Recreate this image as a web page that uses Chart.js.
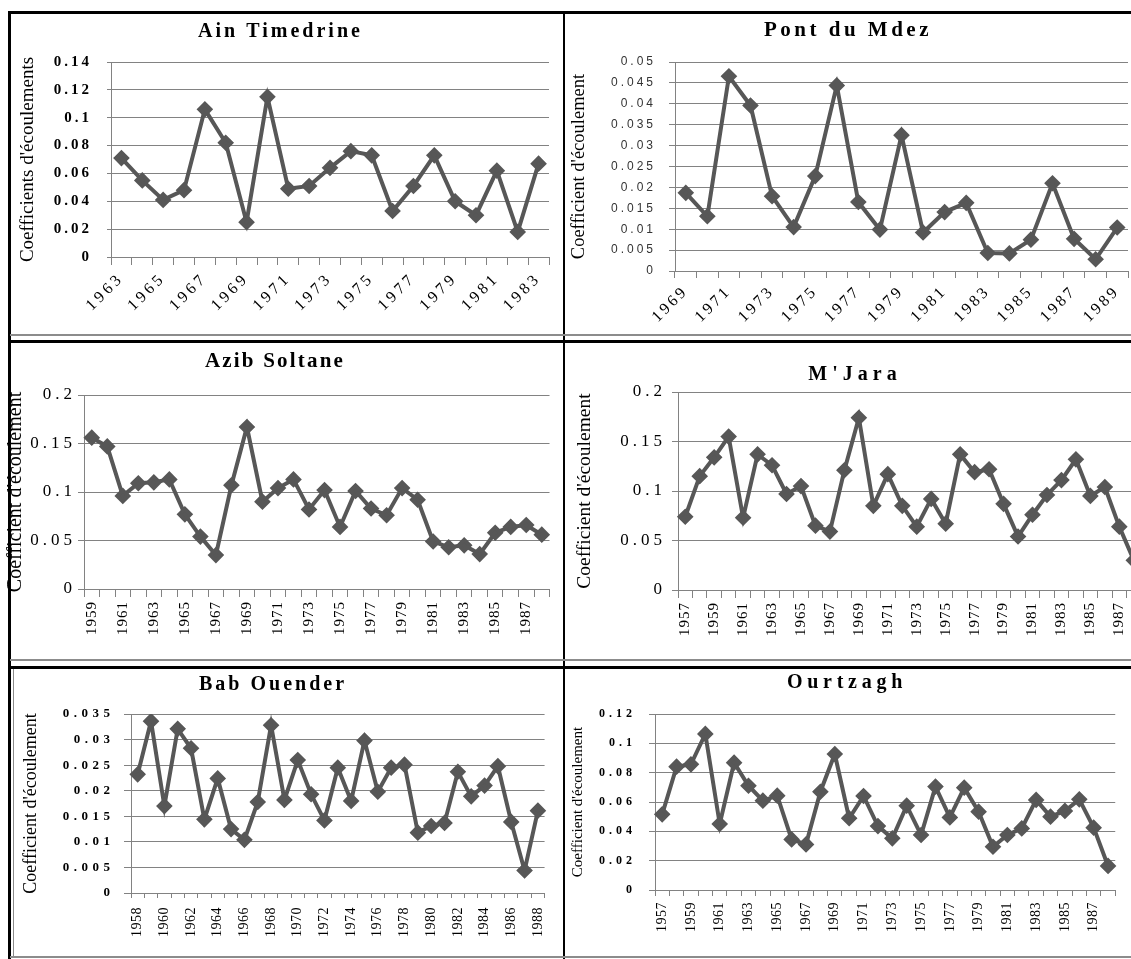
<!DOCTYPE html>
<html>
<head>
<meta charset="utf-8">
<script src="https://cdn.jsdelivr.net/npm/chart.js@4.4.1/dist/chart.umd.min.js"></script>
<style>
  html, body { margin: 0; padding: 0; background: #fff; }
  #page { position: relative; width: 1131px; height: 959px; overflow: hidden; background: #fff; }
  #page canvas { position: absolute; }
  .rule { position: absolute; z-index: 2; }
  .black { background: #000; }
  .gray { background: #8c8c8c; }
</style>
</head>
<body>
<div id="page">
  <canvas id="ain"></canvas>
  <canvas id="pont"></canvas>
  <canvas id="azib"></canvas>
  <canvas id="mjara"></canvas>
  <canvas id="bab"></canvas>
  <canvas id="ourtzagh"></canvas>

  <div class="rule black" style="left:8px;top:11px;width:1123px;height:3px"></div>
  <div class="rule black" style="left:8px;top:11px;width:3px;height:948px"></div>
  <div class="rule black" style="left:563px;top:11px;width:2px;height:948px"></div>
  <div class="rule gray" style="left:10px;top:334px;width:1121px;height:2px"></div>
  <div class="rule black" style="left:8px;top:340px;width:1123px;height:3px"></div>
  <div class="rule gray" style="left:10px;top:659px;width:1121px;height:2px"></div>
  <div class="rule black" style="left:8px;top:666px;width:1123px;height:3px"></div>
  <div class="rule gray" style="left:13px;top:669px;width:1px;height:288px"></div>
  <div class="rule gray" style="left:10px;top:956px;width:1121px;height:2px"></div>
</div>

<script>
// Coefficient d'écoulement per station
const ainYears = ["1963", "1964", "1965", "1966", "1967", "1968", "1969", "1970", "1971", "1972", "1973",
  "1974", "1975", "1976", "1977", "1978", "1979", "1980", "1981", "1982", "1983"];
const ainValues = [0.071, 0.055, 0.041, 0.048, 0.106, 0.082, 0.025, 0.115, 0.049, 0.051, 0.064,
  0.076, 0.073, 0.033, 0.051, 0.073, 0.040, 0.030, 0.062, 0.018, 0.067];

const pontYears = ["1969", "1970", "1971", "1972", "1973", "1974", "1975", "1976", "1977", "1978", "1979",
  "1980", "1981", "1982", "1983", "1984", "1985", "1986", "1987", "1988", "1989"];
const pontValues = [0.0187, 0.0131, 0.0466, 0.0396, 0.0179, 0.0105, 0.0227, 0.0444, 0.0165, 0.0099, 0.0325,
  0.0092, 0.0141, 0.0163, 0.0043, 0.0042, 0.0075, 0.021, 0.0077, 0.0028, 0.0104];

const azibYears = ["1959", "1960", "1961", "1962", "1963", "1964", "1965", "1966", "1967", "1968",
  "1969", "1970", "1971", "1972", "1973", "1974", "1975", "1976", "1977", "1978",
  "1979", "1980", "1981", "1982", "1983", "1984", "1985", "1986", "1987", "1988"];
const azibValues = [0.156, 0.147, 0.096, 0.109, 0.110, 0.113, 0.077, 0.054, 0.035, 0.107,
  0.167, 0.090, 0.104, 0.113, 0.082, 0.102, 0.064, 0.101, 0.083, 0.076,
  0.104, 0.092, 0.049, 0.043, 0.045, 0.036, 0.058, 0.064, 0.066, 0.056];

const mjaraYears = ["1957", "1958", "1959", "1960", "1961", "1962", "1963", "1964", "1965", "1966",
  "1967", "1968", "1969", "1970", "1971", "1972", "1973", "1974", "1975", "1976",
  "1977", "1978", "1979", "1980", "1981", "1982", "1983", "1984", "1985", "1986", "1987", "1988"];
const mjaraValues = [0.074, 0.115, 0.134, 0.155, 0.073, 0.137, 0.126, 0.097, 0.105, 0.065,
  0.059, 0.121, 0.174, 0.085, 0.117, 0.085, 0.064, 0.092, 0.067, 0.137,
  0.119, 0.122, 0.087, 0.054, 0.076, 0.096, 0.111, 0.132, 0.095, 0.104, 0.064, 0.03];

const babYears = ["1958", "1959", "1960", "1961", "1962", "1963", "1964", "1965", "1966", "1967",
  "1968", "1969", "1970", "1971", "1972", "1973", "1974", "1975", "1976", "1977",
  "1978", "1979", "1980", "1981", "1982", "1983", "1984", "1985", "1986", "1987", "1988"];
const babValues = [0.0232, 0.0336, 0.0170, 0.0321, 0.0283, 0.0144, 0.0224, 0.0125, 0.0104, 0.0178,
  0.0328, 0.0182, 0.0260, 0.0193, 0.0142, 0.0245, 0.0180, 0.0298, 0.0198, 0.0245,
  0.0251, 0.0118, 0.0131, 0.0137, 0.0237, 0.0189, 0.0210, 0.0248, 0.0139, 0.0044, 0.0161];

const ourYears = ["1957", "1958", "1959", "1960", "1961", "1962", "1963", "1964", "1965", "1966",
  "1967", "1968", "1969", "1970", "1971", "1972", "1973", "1974", "1975", "1976",
  "1977", "1978", "1979", "1980", "1981", "1982", "1983", "1984", "1985", "1986", "1987", "1988"];
const ourValues = [0.0516, 0.0841, 0.0857, 0.1064, 0.045, 0.0868, 0.0711, 0.0609, 0.0643, 0.0345,
  0.0311, 0.067, 0.0927, 0.0489, 0.0641, 0.0436, 0.0352, 0.0575, 0.0375, 0.0705,
  0.0495, 0.0698, 0.0534, 0.0295, 0.0375, 0.042, 0.0614, 0.05, 0.0539, 0.0618, 0.0425, 0.0164];

const lineColor = "#575757";
const gridColor = "#828282";
const serif = "'Liberation Serif', 'Times New Roman', serif";

// the scan has wide letter spacing on titles and tick labels, keyed here by font size
function spaceLetters(canvas, spacing) {
  const ctx = canvas.getContext("2d");
  const fill = ctx.fillText;
  const measure = ctx.measureText;
  const pick = () => {
    const m = /([\d.]+)px/.exec(ctx.font);
    const s = m ? spacing[m[1]] : 0;
    ctx.letterSpacing = (s || 0) + "px";
  };
  ctx.fillText = function (...args) { pick(); return fill.apply(ctx, args); };
  ctx.measureText = function (...args) { pick(); return measure.apply(ctx, args); };
}

function makeChart(p) {
  const canvas = document.getElementById(p.id);
  canvas.width = p.box.w;
  canvas.height = p.box.h;
  canvas.style.left = p.box.x + "px";
  canvas.style.top = p.box.y + "px";
  spaceLetters(canvas, p.spacing);

  const titleLine = p.titleSize * 1.2;
  const titleTop = p.titleY - p.box.y - titleLine / 2;
  const titleBottom = p.plot.t - p.box.y - titleTop - titleLine;
  const yTitlePad = Math.max(p.yTitleX - p.box.x - p.yTitleSize * 0.6, 0);
  const yLabelPad = p.plot.l - p.yTick - p.yLabelRight - (p.spacing[p.yFont.size] || 0);

  return new Chart(canvas, {
    type: "line",
    data: {
      labels: p.labels,
      datasets: [{
        data: p.values,
        borderColor: lineColor,
        backgroundColor: lineColor,
        borderWidth: 4,
        pointStyle: "rectRot",
        pointRadius: 5.5,
        pointBackgroundColor: lineColor,
        pointBorderColor: lineColor,
        tension: 0,
        fill: false,
      }],
    },
    options: {
      responsive: false,
      animation: false,
      layout: { padding: { left: 0, top: 0, bottom: 0, right: p.box.x + p.box.w - p.plot.r } },
      plugins: {
        legend: { display: false },
        tooltip: { enabled: false },
        title: {
          display: true,
          text: p.title,
          color: "#000",
          font: { family: serif, size: p.titleSize, weight: "bold" },
          padding: { top: titleTop, bottom: titleBottom },
        },
      },
      scales: {
        x: {
          offset: true,
          grid: { offset: true, drawOnChartArea: false, drawTicks: true, tickLength: p.xTick, color: gridColor },
          border: { display: p.xLine, color: gridColor },
          ticks: {
            autoSkip: false,
            maxRotation: p.rotation,
            minRotation: p.rotation,
            padding: p.xPad,
            color: "#000",
            font: p.xFont,
            callback: function (value, index) {
              return index % 2 === 0 ? this.getLabelForValue(value) : "";
            },
          },
          afterFit: (axis) => { axis.height = p.box.y + p.box.h - p.plot.b; },
        },
        y: {
          min: 0,
          max: p.yMax,
          grid: { color: gridColor, tickLength: p.yTick, drawTicks: true },
          border: { display: true, color: gridColor },
          ticks: {
            stepSize: p.yStep,
            padding: yLabelPad,
            color: p.yColor || "#000",
            font: p.yFont,
            callback: (v) => String(+v.toFixed(4)),
          },
          title: {
            display: true,
            text: p.yTitle,
            color: "#000",
            font: { family: serif, size: p.yTitleSize },
            padding: { top: yTitlePad, bottom: 0 },
          },
          afterFit: (axis) => { axis.width = p.plot.l - p.box.x; },
        },
      },
    },
  });
}

makeChart({
  id: "ain", title: "Ain Timedrine", yTitle: "Coefficients d'écoulements",
  labels: ainYears, values: ainValues, yMax: 0.14, yStep: 0.02,
  box: { x: 12, y: 14, w: 570, h: 322 }, plot: { l: 111, t: 62, r: 549, b: 257 },
  titleY: 32, titleSize: 20, yTitleX: 28, yTitleSize: 19,
  yFont: { family: serif, size: 15, weight: "bold" }, yTick: 4, yLabelRight: 89,
  xFont: { family: serif, size: 16 }, rotation: 45, xPad: 4, xTick: 8, xLine: true,
  spacing: { "20": 3, "15": 3, "16": 3.5 },
});

makeChart({
  id: "pont", title: "Pont du Mdez", yTitle: "Coefficient d'écoulement",
  labels: pontYears, values: pontValues, yMax: 0.05, yStep: 0.005,
  box: { x: 568, y: 14, w: 570, h: 322 }, plot: { l: 675, t: 62, r: 1128, b: 271 },
  titleY: 31, titleSize: 21, yTitleX: 579, yTitleSize: 18.5,
  yFont: { family: "'Liberation Sans', Arial, sans-serif", size: 12 }, yTick: 6, yLabelRight: 653, yColor: "#333",
  xFont: { family: serif, size: 16 }, rotation: 45, xPad: 4, xTick: 7, xLine: true,
  spacing: { "21": 3.5, "12": 3, "16": 3 },
});

makeChart({
  id: "azib", title: "Azib Soltane", yTitle: "Coefficient d'écoulement",
  labels: azibYears, values: azibValues, yMax: 0.2, yStep: 0.05,
  box: { x: 0, y: 346, w: 564, h: 314 }, plot: { l: 84, t: 395, r: 550, b: 589 },
  titleY: 362, titleSize: 21, yTitleX: 16, yTitleSize: 20,
  yFont: { family: serif, size: 17 }, yTick: 6, yLabelRight: 72,
  xFont: { family: serif, size: 15 }, rotation: 90, xPad: 4, xTick: 8, xLine: true,
  spacing: { "21": 2.2, "17": 4, "15": 1 },
});

makeChart({
  id: "mjara", title: "M'Jara", yTitle: "Coefficient d'écoulement",
  labels: mjaraYears, values: mjaraValues, yMax: 0.2, yStep: 0.05,
  box: { x: 568, y: 346, w: 588, h: 314 }, plot: { l: 678, t: 392, r: 1142, b: 590 },
  titleY: 375, titleSize: 20, yTitleX: 585, yTitleSize: 19.5,
  yFont: { family: serif, size: 17 }, yTick: 6, yLabelRight: 662,
  xFont: { family: serif, size: 15 }, rotation: 90, xPad: 4, xTick: 8, xLine: true,
  spacing: { "20": 5, "17": 4, "15": 1 },
});

makeChart({
  id: "bab", title: "Bab Ouender", yTitle: "Coefficient d'écoulement",
  labels: babYears, values: babValues, yMax: 0.035, yStep: 0.005,
  box: { x: 0, y: 672, w: 564, h: 285 }, plot: { l: 131, t: 714, r: 546, b: 893 },
  titleY: 685, titleSize: 20, yTitleX: 31, yTitleSize: 18,
  yFont: { family: serif, size: 13, weight: "bold" }, yTick: 7, yLabelRight: 110,
  xFont: { family: serif, size: 14 }, rotation: 90, xPad: 9, xTick: 5, xLine: false,
  spacing: { "20": 3, "13": 4.5, "14": 0.5 },
});

makeChart({
  id: "ourtzagh", title: "Ourtzagh", yTitle: "Coefficient d'écoulement",
  labels: ourYears, values: ourValues, yMax: 0.12, yStep: 0.02,
  box: { x: 563, y: 668, w: 568, h: 289 }, plot: { l: 655, t: 714, r: 1131, b: 890 },
  titleY: 683, titleSize: 20, yTitleX: 578, yTitleSize: 15,
  yFont: { family: serif, size: 12, weight: "bold" }, yTick: 6, yLabelRight: 632,
  xFont: { family: serif, size: 14 }, rotation: 90, xPad: 6, xTick: 6, xLine: true,
  spacing: { "20": 4.75, "12": 4, "14": 0.5 },
});
</script>
</body>
</html>
